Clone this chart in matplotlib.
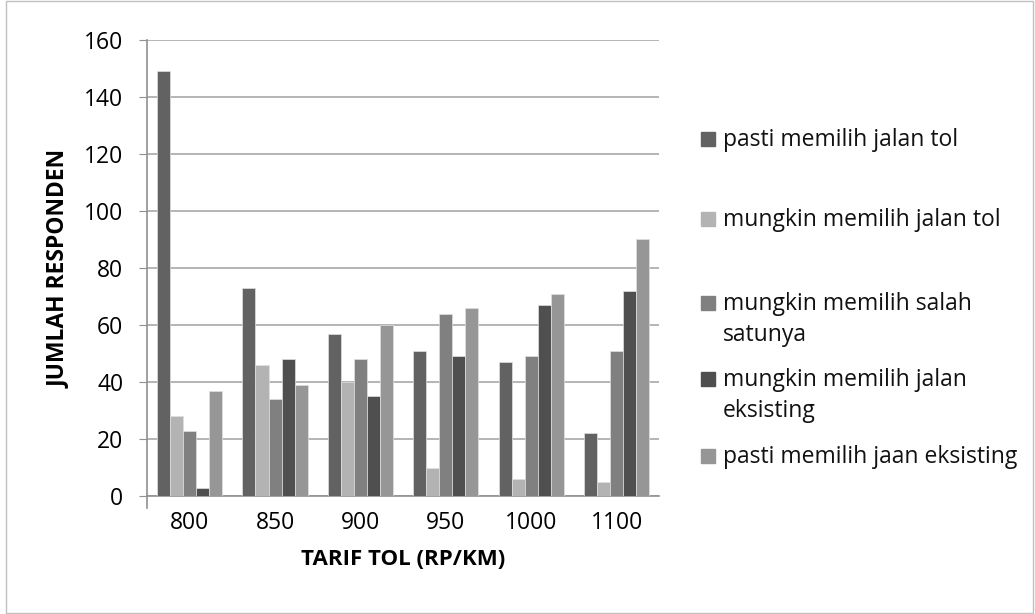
import matplotlib.pyplot as plt
import numpy as np
from matplotlib.patches import Rectangle

plt.rcParams['font.family'] = ['Open Sans', 'DejaVu Sans']

tarif = ['800', '850', '900', '950', '1000', '1100']
labels = [['pasti memilih jalan tol'],
          ['mungkin memilih jalan tol'],
          ['mungkin memilih salah', 'satunya'],
          ['mungkin memilih jalan', 'eksisting'],
          ['pasti memilih jaan eksisting']]
pasti_tol = [149, 73, 57, 51, 47, 22]
mungkin_tol = [28, 46, 40, 10, 6, 5]
salah_satu = [23, 34, 48, 64, 49, 51]
mungkin_eks = [3, 48, 35, 49, 67, 72]
pasti_eks = [37, 39, 60, 66, 71, 90]
series = [pasti_tol, mungkin_tol, salah_satu, mungkin_eks, pasti_eks]
colors = ['#626262', '#b3b3b3', '#808080', '#4f4f4f', '#969696']

W, H = 1035, 614
fig = plt.figure(figsize=(W / 100, H / 100), dpi=100)
ax = fig.add_axes([0.142, 0.192, 0.495, 0.743])

x = np.arange(len(tarif))
w = 0.153
for i, (vals, c) in enumerate(zip(series, colors)):
    ax.bar(x + (i - 2) * w, vals, width=w, color=c, edgecolor='#e0e0e0',
           linewidth=0.5, zorder=3)

ax.set_xlim(-0.5, len(tarif) - 0.5)
ax.set_ylim(0, 160)
ax.set_yticks(range(0, 161, 20))
ax.set_xticks(x)
ax.set_xticklabels(tarif)
ax.tick_params(axis='x', length=0, labelsize=16.5, pad=11)
ax.tick_params(axis='y', length=6, color='#909090', labelsize=16.5, pad=11)
ax.yaxis.grid(True, color='#a8a8a8', linewidth=1.2, zorder=0)
for s in ['top', 'right']:
    ax.spines[s].set_visible(False)
for s in ['left', 'bottom']:
    ax.spines[s].set_color('#909090')
    ax.spines[s].set_linewidth(1.2)
# left axis runs a little below the baseline
ax.plot([-0.5, -0.5], [0, -4], color='#909090', lw=1.2, clip_on=False)

ax.set_xlabel('TARIF TOL (RP/KM)', fontsize=16, fontweight='bold', labelpad=10)
fig.text(59 / W, 1 - 269 / H, 'JUMLAH RESPONDEN', fontsize=16.5, fontweight='bold',
         rotation=90, ha='center', va='center')

# legend drawn by hand so the swatch sits on the first line of each label
ypos = [139, 219, 303, 379, 456]
for lines, c, yp in zip(labels, colors, ypos):
    fig.patches.append(Rectangle((701 / W, 1 - (yp + 7) / H), 14 / W, 14 / H,
                                 transform=fig.transFigure, color=c))
    for k, line in enumerate(lines):
        fig.text(723 / W, 1 - (yp + 7 + 31 * k) / H, line, fontsize=16.5,
                 va='baseline', ha='left', color='#111111')

fig.patches.append(Rectangle((0.006, 0.002), 0.992, 0.996, transform=fig.transFigure,
                             fill=False, edgecolor='#c0c0c0', linewidth=1))

fig.savefig('out.png', dpi=100)
